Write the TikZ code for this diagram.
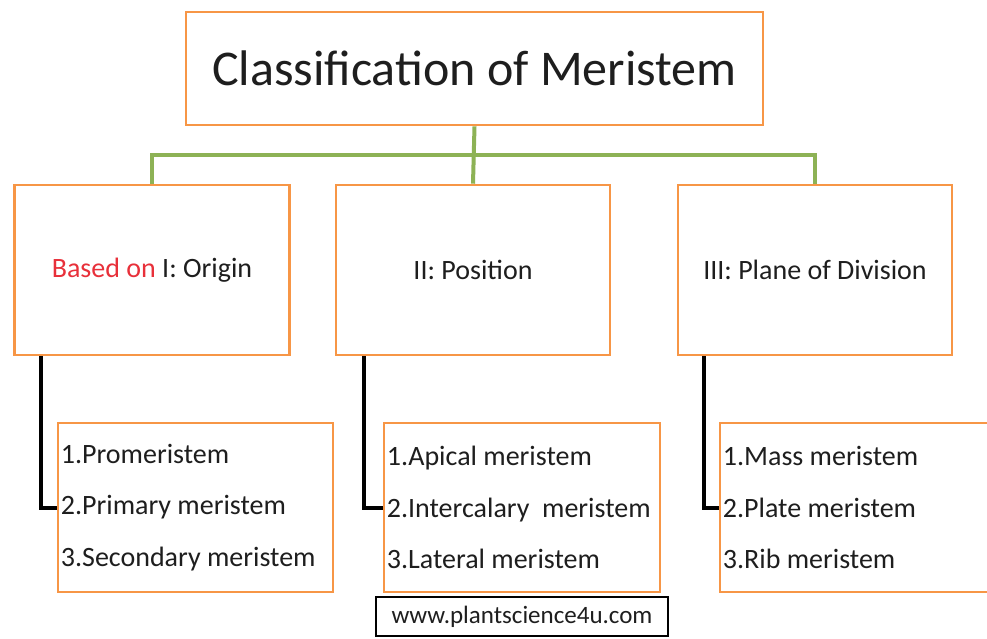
\documentclass[tikz,border=0pt]{standalone}
\usepackage{fontspec}
\setmainfont{Carlito}
\usetikzlibrary{calc}
\definecolor{boxorange}{HTML}{F79646}
\definecolor{busgreen}{HTML}{8DB255}
\definecolor{basedred}{HTML}{E8303A}
\definecolor{txt}{HTML}{1E1E1E}
\tikzset{
  obox/.style={draw=boxorange, line width=2.6pt, fill=white, inner sep=0pt, text=txt},
  titlebox/.style={obox, minimum width=577pt, minimum height=113pt, font=\fontsize{50}{60}\selectfont},
  catbox/.style={obox, minimum width=275pt, minimum height=170pt, font=\fontsize{28}{34}\selectfont},
  listbox/.style={obox, minimum height=169pt},
  listtext/.style={anchor=west, align=left, inner xsep=4pt, inner ysep=0pt, text=txt, font=\fontsize{28}{51.5}\selectfont},
  bus/.style={draw=busgreen, line width=4pt},
  link/.style={draw=black, line width=4pt},
  webbox/.style={draw=black, line width=2pt, fill=white, minimum width=292pt, minimum height=39pt, inner sep=0pt, font=\fontsize{25}{30}\selectfont, text=txt}
}
\begin{document}
\begin{tikzpicture}[x=1pt,y=-1pt]
\useasboundingbox (0,0) rectangle (987,638);
\fill[white] (0,0) rectangle (987,638);
\coordinate (busline) at (0,155);
\node[titlebox] (top) at (474.5,68.5) {Classification of Meristem};
\node[catbox] (origin) at (152,270) {\textcolor{basedred}{Based on} I: Origin};
\node[catbox, minimum width=274pt] (position) at (473,270) {II: Position};
\node[catbox, minimum width=274pt] (plane) at (815,270) {III: Plane of Division};
\draw[bus] (top.south) -- (position.north);
\draw[bus] (origin.north) |- (busline -| plane.north) -- (plane.north);
\node[listbox, minimum width=275pt] (l1) at (195.5,507.5) {};
\node[listbox, minimum width=276pt] (l2) at (522,507.5) {};
\node[listbox, minimum width=270pt] (l3) at (855,507.5) {};
\node[listtext] (t1) at (l1.west) {1.Promeristem\\2.Primary meristem\\3.Secondary meristem};
\node[listtext] (t2) at (l2.west) {1.Apical meristem\\2.Intercalary\ \ meristem\\3.Lateral meristem};
\node[listtext] (t3) at (l3.west) {1.Mass meristem\\2.Plate meristem\\3.Rib meristem};
\draw[link] ($(origin.south west)+(28,0)$) |- (l1.west);
\draw[link] ($(position.south west)+(29,0)$) |- (l2.west);
\draw[link] ($(plane.south west)+(27,0)$) |- (l3.west);
\node[webbox] (web) at (522,616.5) {www.plantscience4u.com};
\end{tikzpicture}
\end{document}
